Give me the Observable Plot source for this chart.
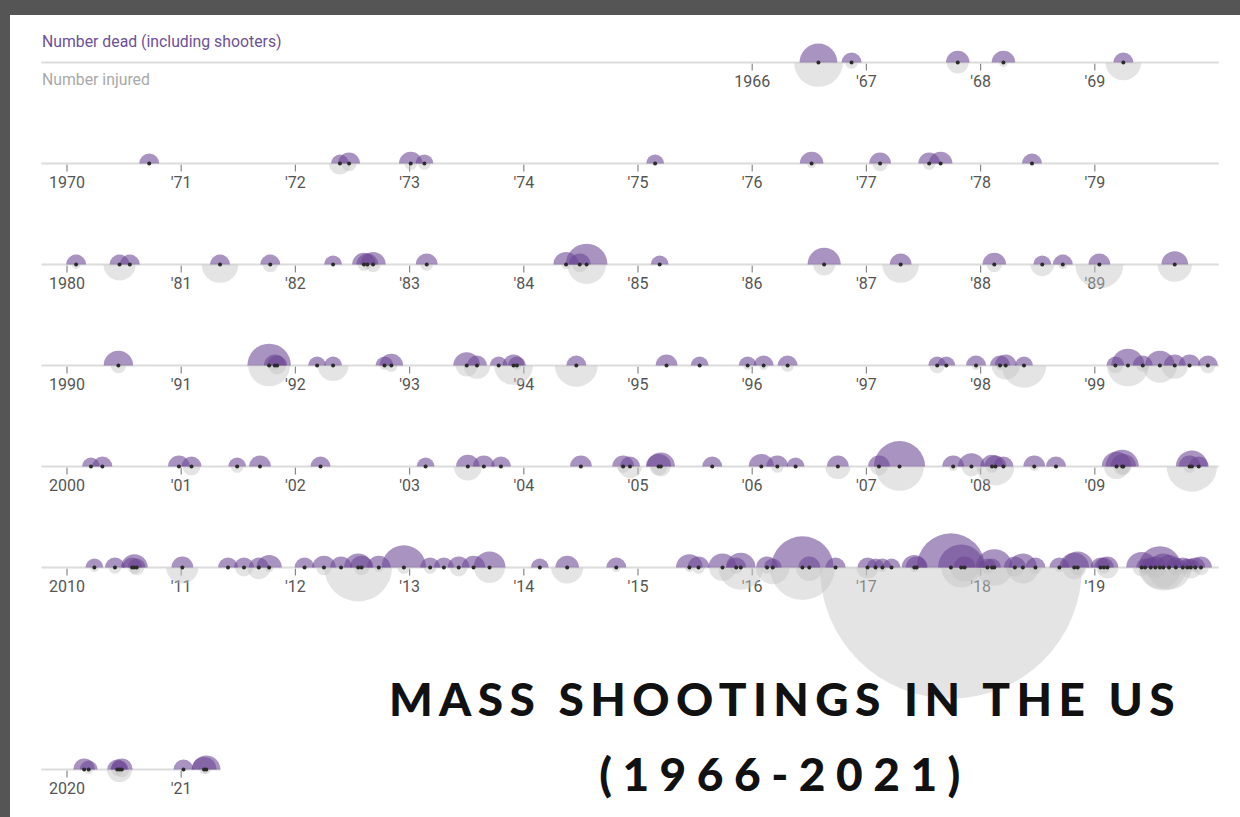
<!DOCTYPE html>
<html><head><meta charset="utf-8">
<script src="https://cdn.jsdelivr.net/npm/d3@7"></script>
<script src="https://cdn.jsdelivr.net/npm/@observablehq/plot@0.6"></script>
<style>
html,body{margin:0;padding:0;}
body{width:1240px;height:817px;background:#555;position:relative;overflow:hidden;font-family:Roboto,"Liberation Sans",sans-serif;}
#panel{position:absolute;left:10px;top:15px;right:0;bottom:0;background:#fff;}
#chart{position:absolute;left:0;top:0;width:1240px;height:817px;}
.legend{position:absolute;left:42px;font-size:15.8px;white-space:nowrap;line-height:18px;}
#ldead{top:33px;color:#6e5096;}
#linj{top:71px;color:#a9a9a9;}
#title{position:absolute;left:360px;width:850px;top:661px;text-align:center;font-family:Lato,sans-serif;font-weight:900;font-size:46px;line-height:75px;color:#111;white-space:nowrap;}
#t1{letter-spacing:6.4px;}
#t2{letter-spacing:10.5px;}
</style></head><body>
<div id="panel"></div>
<div id="chart"></div>
<div class="legend" id="ldead">Number dead (including shooters)</div>
<div class="legend" id="linj">Number injured</div>
<div id="title"><span id="t1">MASS SHOOTINGS IN THE US</span><br><span id="t2">(1966-2021)</span></div>
<script>
// ---- data (decimal date of each shooting, number dead, number injured) ----
const eventYear = [
  1966.58, 1966.87, 1967.80, 1968.20, 1969.25,
  1970.72, 1972.39, 1972.47, 1973.01, 1973.13, 1975.15, 1976.52, 1977.12, 1977.55, 1977.65, 1978.45,
  1980.08, 1980.46, 1980.55, 1981.34, 1981.78, 1982.33, 1982.60, 1982.63, 1982.68, 1983.15, 1984.37, 1984.49, 1984.55, 1985.19, 1986.63, 1987.30, 1988.12, 1988.54, 1988.72, 1989.04, 1989.70,
  1990.45, 1991.77, 1991.82, 1991.84, 1992.19, 1992.33, 1992.78, 1992.84, 1993.50, 1993.59, 1993.78, 1993.91, 1993.94, 1994.46, 1995.25, 1995.54, 1995.96, 1996.10, 1996.31, 1997.62, 1997.70, 1997.96, 1998.17, 1998.22, 1998.38, 1999.18, 1999.29, 1999.42, 1999.57, 1999.70, 1999.83, 1999.99,
  2000.21, 2000.31, 2000.98, 2001.09, 2001.49, 2001.69, 2002.22, 2003.14, 2003.51, 2003.65, 2003.80, 2004.50, 2004.87, 2004.93, 2005.18, 2005.20, 2005.65, 2006.08, 2006.22, 2006.38, 2006.75, 2007.11, 2007.29, 2007.76, 2007.92, 2008.10, 2008.13, 2008.20, 2008.47, 2008.66, 2009.19, 2009.24, 2009.25, 2009.83, 2009.85, 2009.91,
  2010.24, 2010.42, 2010.57, 2010.59, 2010.61, 2011.01, 2011.41, 2011.55, 2011.68, 2011.77, 2012.08, 2012.25, 2012.40, 2012.55, 2012.58, 2012.73, 2012.95, 2013.18, 2013.30, 2013.43, 2013.56, 2013.70, 2014.14, 2014.38, 2014.81, 2015.45, 2015.53, 2015.74, 2015.86, 2015.90, 2016.13, 2016.18, 2016.44, 2016.50, 2016.73, 2017.01, 2017.08, 2017.14, 2017.22, 2017.42, 2017.44, 2017.74, 2017.83, 2017.86, 2018.06, 2018.10, 2018.12, 2018.30, 2018.37, 2018.48, 2018.69, 2018.82, 2018.85, 2019.05, 2019.08, 2019.11, 2019.41, 2019.44, 2019.49, 2019.53, 2019.57, 2019.60, 2019.65, 2019.71, 2019.77, 2019.81, 2019.84, 2019.88, 2019.93,
  2020.15, 2020.19, 2020.44, 2020.46, 2020.48, 2021.02, 2021.20, 2021.22
];
const dead = [
  18, 5, 7, 7, 5,
  5, 4, 6, 7, 4, 4, 7, 6, 6, 7, 5,
  5, 5, 5, 5, 5, 4, 7, 6, 8, 6, 8, 6, 22, 4, 14, 6, 7, 4, 5, 6, 9,
  11, 24, 6, 5, 4, 4, 4, 7, 9, 5, 4, 6, 4, 5, 6, 4, 4, 5, 5, 4, 4, 5, 5, 6, 4, 4, 14, 5, 11, 6, 6, 5,
  4, 5, 6, 5, 4, 6, 5, 4, 7, 6, 5, 6, 6, 5, 8, 10, 5, 8, 6, 4, 6, 6, 33, 6, 9, 7, 6, 5, 6, 5, 11, 14, 8, 6, 13, 5,
  4, 5, 5, 9, 4, 6, 5, 5, 5, 8, 5, 7, 6, 10, 7, 7, 25, 5, 5, 6, 7, 13, 4, 7, 5, 9, 6, 10, 5, 11, 6, 4, 49, 6, 5, 5, 4, 4, 4, 8, 6, 59, 27, 6, 4, 4, 17, 6, 10, 5, 5, 11, 13, 5, 5, 6, 12, 4, 5, 6, 23, 10, 8, 5, 5, 4, 4, 5, 6,
  6, 4, 5, 4, 6, 5, 8, 10
];
const injured = [
  30, 2, 6, 1, 16,
  0, 6, 3, 2, 2, 0, 1, 3, 2, 0, 0,
  1, 13, 0, 17, 3, 0, 2, 1, 3, 2, 1, 3, 19, 0, 6, 17, 3, 7, 1, 29, 15,
  3, 22, 1, 4, 0, 12, 1, 2, 6, 9, 0, 19, 1, 23, 0, 0, 1, 1, 2, 3, 0, 1, 1, 10, 25, 3, 22, 2, 15, 9, 0, 3,
  0, 0, 0, 4, 2, 0, 0, 0, 10, 0, 0, 0, 2, 7, 4, 5, 0, 0, 2, 0, 8, 4, 30, 1, 5, 2, 18, 0, 1, 0, 8, 4, 3, 2, 32, 0,
  1, 2, 0, 2, 3, 13, 0, 4, 7, 1, 0, 3, 0, 58, 3, 1, 2, 2, 0, 4, 0, 12, 0, 13, 1, 1, 2, 9, 2, 25, 2, 14, 53, 9, 0, 6, 0, 1, 0, 1, 0, 867, 20, 10, 2, 0, 17, 4, 13, 2, 1, 7, 3, 0, 2, 6, 4, 2, 3, 6, 23, 27, 25, 3, 1, 2, 6, 1, 3,
  0, 1, 2, 8, 3, 0, 1, 1
];
// rows of the chart (one per decade; an empty slot before the 2020s)
const rowKeys = ["1960", "1970", "1980", "1990", "2000", "2010", "gap", "2020"];
const lineRows = ["1960", "1970", "1980", "1990", "2000", "2010", "2020"];
const lineEnd = [10.09, 10.09, 10.09, 10.09, 10.09, 10.09, 1.35];
const lineStart = -0.22;
const tickYears = d3.range(1966, 2022);
const tickLabels = [
  "1966", "'67", "'68", "'69",
  "1970", "'71", "'72", "'73", "'74", "'75", "'76", "'77", "'78", "'79",
  "1980", "'81", "'82", "'83", "'84", "'85", "'86", "'87", "'88", "'89",
  "1990", "'91", "'92", "'93", "'94", "'95", "'96", "'97", "'98", "'99",
  "2000", "'01", "'02", "'03", "'04", "'05", "'06", "'07", "'08", "'09",
  "2010", "'11", "'12", "'13", "'14", "'15", "'16", "'17", "'18", "'19",
  "2020", "'21"
];

// ---- build tables ----
const rowOf = t => String(Math.floor(t / 10) * 10);
const xOf = t => t - Math.floor(t / 10) * 10;
const events = eventYear.map((t, i) => ({row: rowOf(t), x: xOf(t), dead: dead[i], injured: injured[i]}));
const ticks = tickYears.map((yr, i) => ({row: rowOf(yr), x: xOf(yr), label: tickLabels[i]}));
const lines = lineRows.map((r, i) => ({row: r, x1: lineStart, x2: lineEnd[i]}));

// half-circle symbols (size = r*r*PI)
const upperHalf = {draw(ctx, size) { const r = Math.sqrt(size / Math.PI); ctx.moveTo(r, 0); ctx.arc(0, 0, r, 0, Math.PI, true); ctx.closePath(); }};
const lowerHalf = {draw(ctx, size) { const r = Math.sqrt(size / Math.PI); ctx.moveTo(r, 0); ctx.arc(0, 0, r, 0, Math.PI, false); ctx.closePath(); }};
const tickMark = {draw(ctx) { ctx.moveTo(0, 1); ctx.lineTo(0, 8); }};

const chart = Plot.plot({
  width: 1240,
  height: 817,
  margin: 0,
  style: {background: "transparent", overflow: "visible"},
  x: {domain: [0, 10], range: [66.5, 1208.5], axis: null},
  y: {type: "point", domain: rowKeys, range: [62, 769], padding: 0, axis: null},
  r: {type: "sqrt", domain: [0, 900], range: [0, 133.5]},
  marks: [
    Plot.text(ticks, {x: "x", y: "row", text: "label", dy: 19, fill: "#555", fontSize: 16, fontFamily: "Roboto, sans-serif"}),
    Plot.dot(ticks, {x: "x", y: "row", r: 3, symbol: tickMark, stroke: "#888", strokeWidth: 1.2, fill: "none"}),
    Plot.ruleY(lines, {y: "row", x1: "x1", x2: "x2", stroke: "#dcdcdc", strokeWidth: 2}),
    Plot.dot(events, {x: "x", y: "row", r: "injured", symbol: lowerHalf, fill: "#c4c4c4", fillOpacity: 0.45}),
    Plot.dot(events, {x: "x", y: "row", r: "dead", symbol: upperHalf, fill: "#6b4592", fillOpacity: 0.58}),
    Plot.dot(events, {x: "x", y: "row", r: 2, fill: "#2b2b2b"})
  ]
});
document.getElementById("chart").appendChild(chart);
</script>
</body></html>
